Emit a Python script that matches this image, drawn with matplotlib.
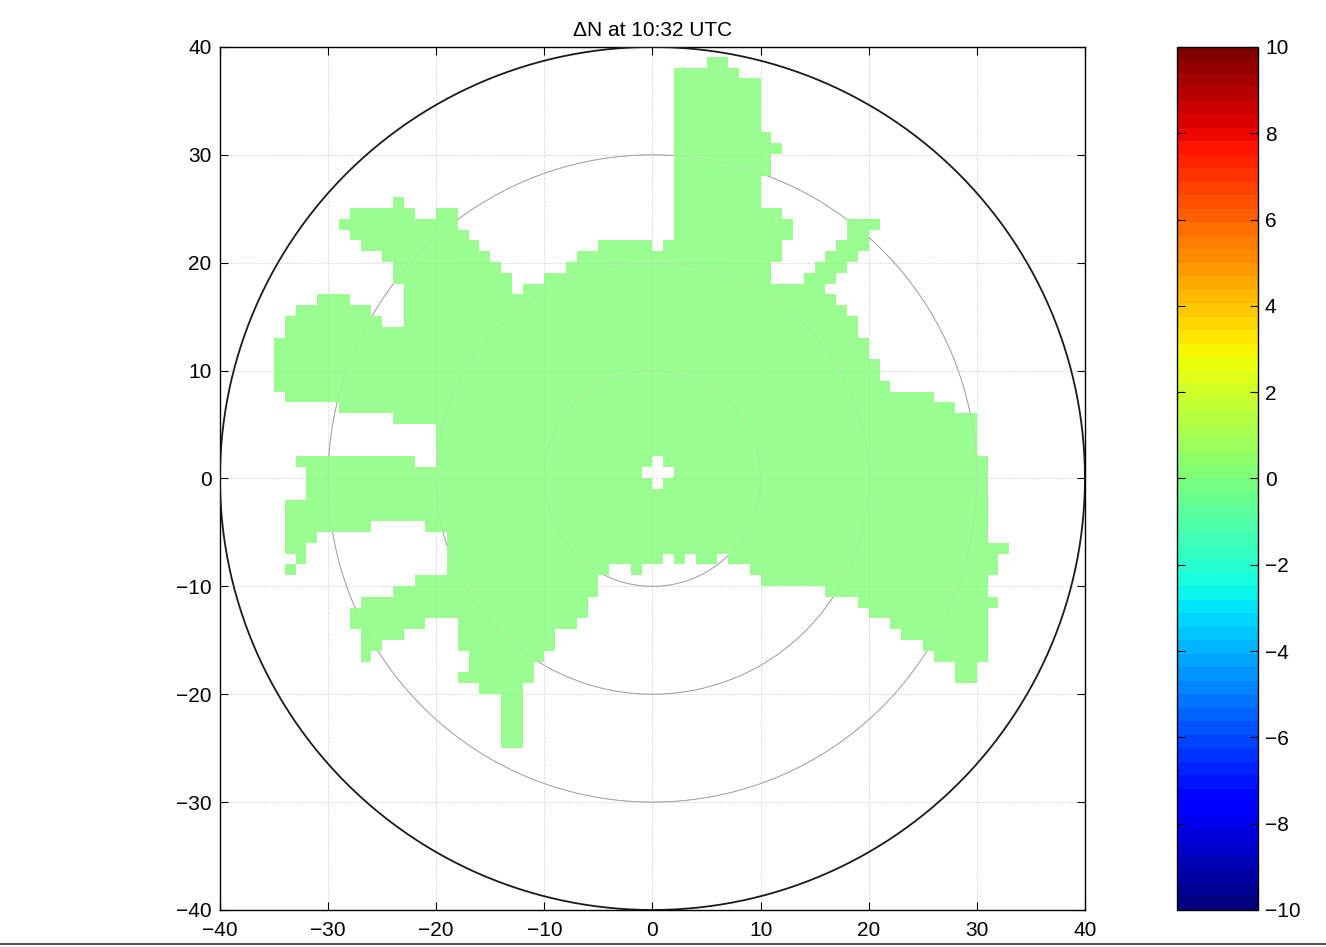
import matplotlib
matplotlib.use("Agg")

import numpy as np
import matplotlib.pyplot as plt
from matplotlib.colors import Normalize
from matplotlib.cm import ScalarMappable
from matplotlib.lines import Line2D

plt.rcParams["font.family"] = ["Liberation Sans", "DejaVu Sans"]

# 1 km radar grid: cell (i, j) covers x in [i, i+1), y in [j, j+1).
# Each row j lists the runs [x0, x1) of cells that carry a ΔN estimate.
row_y = list(range(38, -26, -1))
row_runs = [
    [(5, 7)],                                         # 38
    [(2, 8)],                                         # 37
    [(2, 10)],                                        # 36
    [(2, 10)],                                        # 35
    [(2, 10)],                                        # 34
    [(2, 10)],                                        # 33
    [(2, 10)],                                        # 32
    [(2, 11)],                                        # 31
    [(2, 12)],                                        # 30
    [(2, 11)],                                        # 29
    [(2, 11)],                                        # 28
    [(2, 10)],                                        # 27
    [(2, 10)],                                        # 26
    [(-24, -23), (2, 10)],                            # 25
    [(-28, -22), (-20, -18), (2, 12)],                # 24
    [(-29, -18), (2, 13), (18, 21)],                  # 23
    [(-28, -17), (2, 13), (18, 20)],                  # 22
    [(-27, -16), (-5, 0), (1, 12), (17, 20)],         # 21
    [(-25, -15), (-7, 12), (16, 19)],                 # 20
    [(-24, -14), (-8, 11), (15, 18)],                 # 19
    [(-24, -13), (-10, 11), (14, 17)],                # 18
    [(-23, -13), (-12, 16)],                          # 17
    [(-31, -28), (-23, 17)],                          # 16
    [(-33, -26), (-23, 18)],                          # 15
    [(-34, -25), (-23, 19)],                          # 14
    [(-34, 19)],                                      # 13
    [(-35, 20)],                                      # 12
    [(-35, 20)],                                      # 11
    [(-35, 21)],                                      # 10
    [(-35, 21)],                                      # 9
    [(-35, 22)],                                      # 8
    [(-34, 26)],                                      # 7
    [(-29, 28)],                                      # 6
    [(-24, 30)],                                      # 5
    [(-20, 30)],                                      # 4
    [(-20, 30)],                                      # 3
    [(-20, 30)],                                      # 2
    [(-33, -22), (-20, 0), (1, 31)],                  # 1
    [(-32, -1), (2, 31)],                             # 0
    [(-32, 0), (1, 31)],                              # -1
    [(-32, 31)],                                      # -2
    [(-34, 31)],                                      # -3
    [(-34, 31)],                                      # -4
    [(-34, -26), (-21, 31)],                          # -5
    [(-34, -31), (-19, 31)],                          # -6
    [(-34, -32), (-19, 33)],                          # -7
    [(-33, -32), (-19, 1), (2, 3), (4, 6), (7, 32)],  # -8
    [(-34, -33), (-19, -4), (-2, -1), (9, 32)],       # -9
    [(-22, -5), (10, 31)],                            # -10
    [(-24, -5), (16, 31)],                            # -11
    [(-27, -6), (19, 32)],                            # -12
    [(-28, -6), (20, 31)],                            # -13
    [(-28, -21), (-18, -7), (22, 31)],                # -14
    [(-27, -23), (-18, -9), (23, 31)],                # -15
    [(-27, -25), (-18, -9), (25, 31)],                # -16
    [(-27, -26), (-17, -10), (26, 31)],               # -17
    [(-17, -11), (28, 30)],                           # -18
    [(-18, -11), (28, 30)],                           # -19
    [(-16, -12)],                                     # -20
    [(-14, -12)],                                     # -21
    [(-14, -12)],                                     # -22
    [(-14, -12)],                                     # -23
    [(-14, -12)],                                     # -24
    [(-14, -12)],                                     # -25
]
dn_value = 0.0

ring_radii = [10, 20, 30]
max_range = 40
axis_ticks = np.arange(-40, 41, 10)
cbar_ticks = np.arange(-10, 11, 2)
vmin, vmax = -10, 10

# fill the grid from the runs
grid = np.full((80, 80), np.nan)
for j, runs in zip(row_y, row_runs):
    for x0, x1 in runs:
        grid[j + 40, x0 + 40:x1 + 40] = dn_value

cmap = plt.get_cmap("jet", 64)
norm = Normalize(vmin=vmin, vmax=vmax)

fig = plt.figure(figsize=(13.26, 9.47), dpi=100)
ax = fig.add_axes([0.1659, 0.0391, 0.6523, 0.9113])

ax.imshow(np.ma.masked_invalid(grid), origin="lower", extent=(-40, 40, -40, 40),
          cmap=cmap, norm=norm, interpolation="nearest", aspect="auto",
          alpha=0.8, zorder=1)

# range rings: gray under the data, a faint light trace over it
theta = np.linspace(0, 2 * np.pi, 721)
for r in ring_radii:
    ax.plot(r * np.cos(theta), r * np.sin(theta), color="0.4", lw=0.6, zorder=0.9)
    ax.plot(r * np.cos(theta), r * np.sin(theta), color="white", lw=0.7,
            alpha=0.35, zorder=2)
ax.plot(max_range * np.cos(theta), max_range * np.sin(theta), color="0.1", lw=1.3, zorder=3)

ax.set_xlim(-40, 40)
ax.set_ylim(-40, 40)
ax.set_xticks(axis_ticks)
ax.set_yticks(axis_ticks)
ax.set_axisbelow(True)
ax.grid(True, linestyle=":", color="0.78", lw=0.7)
ax.tick_params(direction="in", top=True, right=True, length=6, width=0.8, labelsize=15)
ax.tick_params(axis="x", pad=8)
ax.tick_params(axis="y", pad=6)
for sp in ax.spines.values():
    sp.set_linewidth(1.0)
ax.set_title("ΔN at 10:32 UTC", fontsize=15, pad=8)

cax = fig.add_axes([0.8876, 0.0391, 0.0611, 0.9113])
cb = fig.colorbar(ScalarMappable(norm=norm, cmap=cmap), cax=cax, ticks=cbar_ticks)
cax.tick_params(direction="in", left=True, right=True, length=6, width=0.8,
                labelsize=15, pad=5)
cb.outline.set_linewidth(1.0)

# page rule under the plot
fig.add_artist(Line2D([0, 1], [0.003, 0.003], transform=fig.transFigure,
                      color="0.35", lw=1.5))

fig.savefig("out.png", dpi=100)
plt.close(fig)
